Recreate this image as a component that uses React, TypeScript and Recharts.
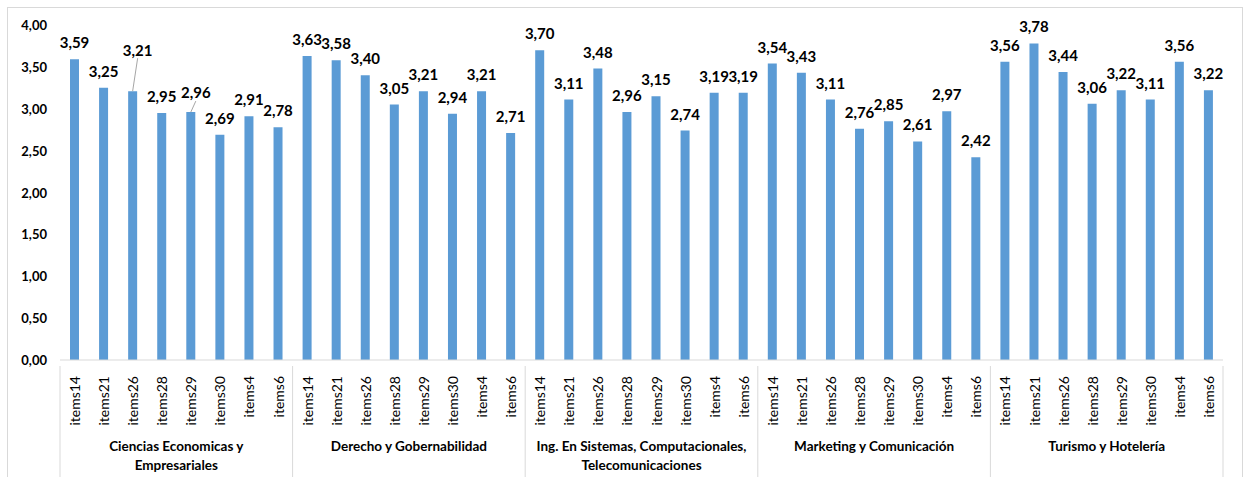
import React from "react";
import { BarChart, Bar, XAxis, YAxis, LabelList } from "recharts";

const groups: string[][] = [
  ["Ciencias Economicas y", "Empresariales"],
  ["Derecho y Gobernabilidad"],
  ["Ing. En Sistemas, Computacionales,", "Telecomunicaciones"],
  ["Marketing y Comunicación"],
  ["Turismo y Hotelería"],
];
const items: string[] = ["items14", "items21", "items26", "items28", "items29", "items30", "items4", "items6"];

const ciencias: number[] = [3.59, 3.25, 3.21, 2.95, 2.96, 2.69, 2.91, 2.78];
const derecho: number[] = [3.63, 3.58, 3.4, 3.05, 3.21, 2.94, 3.21, 2.71];
const ingenieria: number[] = [3.7, 3.11, 3.48, 2.96, 3.15, 2.74, 3.19, 3.19];
const marketing: number[] = [3.54, 3.43, 3.11, 2.76, 2.85, 2.61, 2.97, 2.42];
const turismo: number[] = [3.56, 3.78, 3.44, 3.06, 3.22, 3.11, 3.56, 3.22];

const yTicks: number[] = [0, 0.5, 1, 1.5, 2, 2.5, 3, 3.5, 4];

const series = [ciencias, derecho, ingenieria, marketing, turismo];
const data = series.flatMap((vals, g) =>
  vals.map((v, i) => ({ key: `${g}-${i}`, item: items[i], group: g, value: v }))
);

const W = 1246;
const H = 477;
const M = { top: 25, right: 23, bottom: 0, left: 0 };
const Y_W = 60;
const X_H = 117;
const PLOT_W = W - M.left - M.right - Y_W;
const BAND = PLOT_W / data.length;
const FONT = "Lato, 'Open Sans', sans-serif";
const BAR = "#5B9BD5";
const GRID = "#D9D9D9";

// label displacements (index -> dx, dy) for labels moved off their default spot
const labelShift: Record<number, [number, number]> = { 2: [5, -24], 4: [5, -3] };

const fmt = (v: number) => v.toFixed(2).replace(".", ",");

const XTick = (props: any) => {
  const { x, y, payload } = props;
  const idx: number = payload.index;
  const d = data[idx];
  const els: React.ReactNode[] = [];
  els.push(
    <text
      key="t"
      transform={`translate(${x},${y + 10}) rotate(-90)`}
      textAnchor="end"
      dominantBaseline="central"
      fontFamily={FONT}
      fontSize={14}
      fill="#000"
    >
      {d.item}
    </text>
  );
  const n = items.length;
  if (idx % n === 0) {
    els.push(<line key="l" x1={x - BAND / 2} x2={x - BAND / 2} y1={y} y2={y + 130} stroke={GRID} strokeWidth={1} />);
    const cx = x - BAND / 2 + (BAND * n) / 2;
    groups[d.group].forEach((ln, k) => {
      els.push(
        <text key={`g${k}`} x={cx} y={y + 80 + k * 19} textAnchor="middle" dominantBaseline="central" fontFamily={FONT} fontSize={13.5} fontWeight="bold" fill="#000">
          {ln}
        </text>
      );
    });
  }
  if (idx === data.length - 1) {
    els.push(<line key="r" x1={x + BAND / 2} x2={x + BAND / 2} y1={y} y2={y + 130} stroke={GRID} strokeWidth={1} />);
  }
  return <g>{els}</g>;
};

const YTick = (props: any) => {
  const { x, y, payload } = props;
  return (
    <text x={x - 5} y={y} textAnchor="end" dominantBaseline="central" fontFamily={FONT} fontSize={13} fontWeight="bold" fill="#000">
      {fmt(payload.value)}
    </text>
  );
};

const DataLabel = (props: any) => {
  const { x, y, width, value, index } = props;
  const cx = x + width / 2;
  const shift = labelShift[index];
  const dx = shift ? shift[0] : 0;
  const dy = shift ? shift[1] : 0;
  const ly = y - 17 + dy;
  return (
    <g>
      {shift && Math.abs(dy) > 5 ? (
        <line x1={cx + dx} y1={ly + 8} x2={cx} y2={y} stroke="#A6A6A6" strokeWidth={1} />
      ) : null}
      {shift && Math.abs(dy) <= 5 ? (
        <line x1={cx + dx} y1={ly + 9} x2={cx} y2={y} stroke="#A6A6A6" strokeWidth={1} />
      ) : null}
      <text x={cx + dx} y={ly} textAnchor="middle" dominantBaseline="central" fontFamily={FONT} fontSize={15} fontWeight="bold" fill="#000">
        {fmt(value)}
      </text>
    </g>
  );
};

export default function App() {
  return (
    <div style={{ position: "absolute", left: 0, top: 0, width: W, height: H, background: "#fff", overflow: "hidden" }}>
      <div style={{ position: "absolute", left: 7, top: 7, width: 1234, height: 480, border: `1px solid ${GRID}` }} />
      <div style={{ position: "absolute", left: 0, top: 0 }}>
        <BarChart width={W} height={H} data={data} margin={M}>
          <YAxis
            type="number"
            domain={[0, 4]}
            ticks={yTicks}
            width={Y_W}
            axisLine={false}
            tickLine={false}
            tick={<YTick />}
            interval={0}
          />
          <XAxis
            dataKey="key"
            interval={0}
            height={X_H}
            axisLine={{ stroke: GRID }}
            tickLine={false}
            tick={<XTick />}
            tickMargin={0}
          />
          <Bar dataKey="value" fill={BAR} barSize={9} isAnimationActive={false}>
            <LabelList dataKey="value" content={<DataLabel />} />
          </Bar>
        </BarChart>
      </div>
    </div>
  );
}
